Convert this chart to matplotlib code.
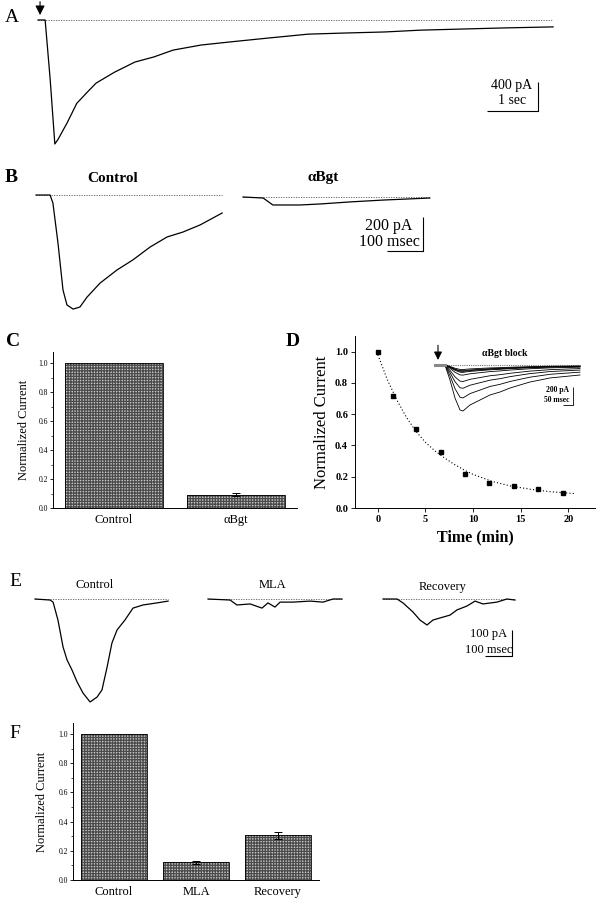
import matplotlib
matplotlib.use("Agg")
import matplotlib.pyplot as plt
from matplotlib.ticker import MultipleLocator, FormatStrFormatter
import numpy as np

W, H = 603, 900
plt.rcParams['font.family'] = ['Liberation Serif', 'DejaVu Serif']
plt.rcParams['hatch.linewidth'] = 0.9

# ---- data ----
# A: whole-cell current (sec, pA)
a_t = [0, 0.14, 0.24, 0.33, 0.39, 0.57, 0.76, 0.96, 1.14, 1.5, 1.9, 2.27, 2.65,
       3.2, 3.8, 4.5, 5.3, 6.0, 6.8, 7.5, 8.3, 9.1, 10.1]
a_i = [0, 0, -830, -1710, -1650, -1420, -1150, -1000, -870, -720, -580, -510, -415,
       -345, -300, -250, -195, -180, -165, -140, -125, -110, -95]

# B: control and aBgt (msec, pA)
b_ctrl_t = [0, 39, 47, 61, 75, 86, 103, 122, 142, 178, 225, 269, 317, 364, 408, 456, 517]
b_ctrl_i = [0, 0, -47, -282, -559, -647, -671, -659, -600, -518, -441, -382, -306,
            -247, -218, -176, -106]
b_bgt_t = [0, 56, 83, 158, 214, 297, 389, 519]
b_bgt_i = [0, -6, -47, -47, -41, -29, -18, -6]

# C: bar chart
c_labels = ['Control', 'αBgt']
c_vals = [1.0, 0.092]
c_err = [0, 0.011]

# D: time course of block
d_time = [0, 1.6, 4.0, 6.6, 9.2, 11.7, 14.3, 16.8, 19.4]
d_norm = [1.0, 0.716, 0.506, 0.359, 0.22, 0.16, 0.139, 0.124, 0.098]
d_fit_t = [0, 1, 2, 3, 4, 5, 6, 7, 8, 9, 10, 12, 14, 16, 18, 20, 20.8]
d_fit_y = [0.98, 0.82, 0.69, 0.58, 0.49, 0.42, 0.365, 0.32, 0.28, 0.245, 0.215,
           0.17, 0.14, 0.12, 0.105, 0.095, 0.092]
# inset trace shape (msec, pA) for the first (largest) response
ins_t = [0, 50, 75, 100, 125, 140, 175, 225, 275, 325, 375, 425, 475, 525, 575, 625, 675, 725]
ins_i = [0, 0, -167, -367, -500, -511, -444, -389, -333, -300, -256, -222, -189,
         -167, -144, -133, -122, -111]

# E: control, MLA, recovery (msec, pA)
e_ctrl_t = [0, 56, 67, 85, 104, 119, 137, 156, 178, 204, 230, 248, 267, 285, 304,
            333, 363, 400, 452, 493]
e_ctrl_i = [0, -4, -12, -81, -185, -235, -273, -319, -362, -396, -377, -350, -262,
            -169, -119, -81, -35, -23, -15, -8]
e_mla_t = [0, 82, 107, 156, 200, 222, 248, 267, 315, 378, 426, 463, 496]
e_mla_i = [0, -4, -23, -19, -35, -15, -31, -12, -12, -8, -12, 0, 0]
e_rec_t = [0, 52, 74, 111, 137, 163, 185, 211, 248, 274, 311, 341, 370, 422, 459, 489]
e_rec_i = [0, 0, -15, -50, -81, -100, -81, -73, -62, -42, -27, -8, -19, -12, 0, -4]

# F: bar chart
f_labels = ['Control', 'MLA', 'Recovery']
f_vals = [1.0, 0.121, 0.307]
f_err = [0, 0.011, 0.025]

fig = plt.figure(figsize=(W / 100, H / 100), dpi=100)


def px_axes(left, top, width, height):
    return fig.add_axes([left / W, 1 - (top + height) / H, width / W, height / H])


def trace_axes(left, top, width, height, x0, y0, sx, sy):
    # sx, sy: pixels per data unit; (x0, y0): pixel position of the data origin
    ax = px_axes(left, top, width, height)
    ax.set_xlim((left - x0) / sx, (left + width - x0) / sx)
    ax.set_ylim(-(top + height - y0) / sy, -(top - y0) / sy)
    ax.axis('off')
    return ax


def ftext(x, y, s, **kw):
    kw.setdefault('ha', 'center')
    kw.setdefault('va', 'center')
    fig.text(x / W, 1 - y / H, s, **kw)


def scalebar(ax, x, y, dx, dy, lw=0.8):
    ax.plot([x - dx, x, x], [y, y, y + dy], color='k', lw=lw, solid_capstyle='butt')


def base(ax, t_end):
    ax.plot([0, t_end], [0, 0], color='#555555', lw=0.6, ls=(0, (1.5, 1.5)))


# ---- A ----
axA = trace_axes(30, 0, 545, 160, 38, 20, 51, 0.0725)
base(axA, a_t[-1])
axA.plot(a_t, a_i, color='k', lw=0.9)
axA.annotate('', xy=(0.04, 30), xytext=(0.04, 290),
             arrowprops=dict(arrowstyle='-|>', color='k', lw=0.8, mutation_scale=14))
scalebar(axA, 9.8, -1255, 1.0, 400)
ftext(12, 18, 'A', fontsize=14)
ftext(512, 86, '400 pA', fontsize=10)
ftext(512, 101, '1 sec', fontsize=10)

# ---- B ----
axB1 = trace_axes(30, 185, 200, 135, 36, 195, 0.36, 0.17)
base(axB1, b_ctrl_t[-1])
axB1.plot(b_ctrl_t, b_ctrl_i, color='k', lw=0.9)
axB2 = trace_axes(238, 185, 200, 80, 243, 197, 0.36, 0.17)
base(axB2, b_bgt_t[-1])
axB2.plot(b_bgt_t, b_bgt_i, color='k', lw=0.9)
scalebar(axB2, 500, -318, 100, 200)
ftext(11, 178, 'B', fontsize=14, fontweight='bold')
ftext(113, 178, 'Control', fontsize=11, fontweight='bold')
ftext(323, 178, 'αBgt', fontsize=11, fontweight='bold')
ftext(389, 226, '200 pA', fontsize=11.5)
ftext(389, 242, '100 msec', fontsize=11.5)


def bar_panel(ax, labels, vals, err):
    pos = np.arange(1, len(vals) + 1)
    ax.bar(pos, vals, width=0.8, color='#c4c4c4', edgecolor='#4a4a4a', lw=0, hatch='++++++')
    ax.bar(pos, vals, width=0.8, fill=False, edgecolor='k', lw=0.6)
    ax.errorbar(pos[1:], vals[1:], yerr=err[1:], fmt='none', ecolor='k', elinewidth=0.7,
                capsize=3, capthick=0.7)
    ax.set_xticks(pos)
    ax.set_xticklabels(labels, fontsize=9)
    ax.tick_params(axis='x', length=0, pad=4)
    ax.set_xlim(0.5, len(vals) + 0.5)
    ax.set_ylim(0, 1.076)
    ax.yaxis.set_major_locator(MultipleLocator(0.2))
    ax.yaxis.set_minor_locator(MultipleLocator(0.1))
    ax.yaxis.set_major_formatter(FormatStrFormatter('%.1f'))
    ax.tick_params(axis='y', which='major', direction='out', length=2.5, width=0.6,
                   labelsize=5.5, pad=1)
    ax.tick_params(axis='y', which='minor', direction='out', length=1.3, width=0.5)
    for s in ['top', 'right']:
        ax.spines[s].set_visible(False)
    for s in ['left', 'bottom']:
        ax.spines[s].set_linewidth(0.7)


# ---- C ----
axC = px_axes(53, 352, 244, 156)
bar_panel(axC, c_labels, c_vals, c_err)
axC.set_ylabel('Normalized Current', fontsize=9, labelpad=6)
ftext(13, 342, 'C', fontsize=14, fontweight='bold')

# ---- D ----
axD = px_axes(355, 336, 240, 172)
axD.plot(d_fit_t, d_fit_y, color='k', lw=0.8, ls=(0, (1, 2)))
axD.plot(d_time, d_norm, 's', color='k', ms=3.2)
axD.set_xlim(-2.4, 22.8)
axD.set_ylim(0, 1.10)
axD.set_xticks([0, 5, 10, 15, 20])
axD.yaxis.set_major_locator(MultipleLocator(0.2))
axD.yaxis.set_major_formatter(FormatStrFormatter('%.1f'))
axD.tick_params(direction='out', length=3, width=0.6, labelsize=7.5, pad=2)
for lab in axD.get_xticklabels() + axD.get_yticklabels():
    lab.set_fontweight('bold')
for s in ['top', 'right']:
    axD.spines[s].set_visible(False)
for s in ['left', 'bottom']:
    axD.spines[s].set_linewidth(0.7)
axD.set_ylabel('Normalized Current', fontsize=12, labelpad=4)
axD.set_xlabel('Time (min)', fontsize=11.5, fontweight='bold', labelpad=4)
ftext(293, 342, 'D', fontsize=14, fontweight='bold')

axI = trace_axes(428, 335, 172, 85, 435, 365, 0.2, 0.09)
axI.plot([0, ins_t[-1]], [0, 0], color='#777777', lw=0.8, ls=(0, (1, 1)))
ins_t_arr = np.array(ins_t)
for v in d_norm:
    axI.plot(ins_t_arr, np.array(ins_i) * v, color='k', lw=0.6)
axI.plot([0, 50], [0, 0], color='#888888', lw=2.2)
axI.annotate('', xy=(15, 25), xytext=(15, 250),
             arrowprops=dict(arrowstyle='-|>', color='k', lw=0.8, mutation_scale=12))
scalebar(axI, 690, -444, 50, 200, lw=0.6)
ftext(505, 354, 'αBgt block', fontsize=7, fontweight='bold')
ftext(557, 390, '200 pA', fontsize=5.5, fontweight='bold')
ftext(557, 400, '50 msec', fontsize=5.5, fontweight='bold')

# ---- E ----
axE1 = trace_axes(30, 590, 150, 120, 35, 599, 0.27, 0.26)
base(axE1, e_ctrl_t[-1])
axE1.plot(e_ctrl_t, e_ctrl_i, color='k', lw=0.9)
axE2 = trace_axes(200, 590, 150, 30, 208, 599, 0.27, 0.26)
base(axE2, e_mla_t[-1])
axE2.plot(e_mla_t, e_mla_i, color='k', lw=0.9)
axE3 = trace_axes(375, 590, 150, 75, 383, 599, 0.27, 0.26)
base(axE3, e_rec_t[-1])
axE3.plot(e_rec_t, e_rec_i, color='k', lw=0.9)
scalebar(axE3, 478, -219, 100, 100)
ftext(15, 582, 'E', fontsize=14)
ftext(95, 585, 'Control', fontsize=9)
ftext(272, 585, 'MLA', fontsize=9)
ftext(443, 587, 'Recovery', fontsize=9)
ftext(489, 634, '100 pA', fontsize=9)
ftext(489, 650, '100 msec', fontsize=9)

# ---- F ----
axF = px_axes(73, 723, 246, 157)
bar_panel(axF, f_labels, f_vals, f_err)
axF.set_ylabel('Normalized Current', fontsize=9, labelpad=8)
ftext(15, 733, 'F', fontsize=14)

fig.savefig('out.png', dpi=100)
